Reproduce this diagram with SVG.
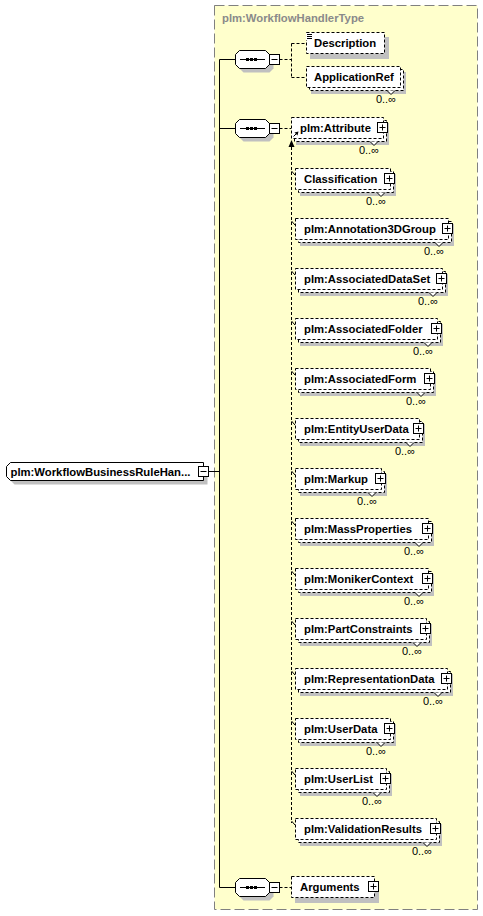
<svg xmlns="http://www.w3.org/2000/svg" xmlns:xlink="http://www.w3.org/1999/xlink" width="483" height="916" viewBox="0 0 483 916">
<style>
.sh{fill:#c0c0c0;stroke:none}
.bx{fill:#fff;stroke:#000;stroke-dasharray:3,2}
.sb{fill:#fff;stroke:#000}
.ic{fill:#fff;stroke:#000}
.ln{fill:none;stroke:#000}
.dl{fill:none;stroke:#000;stroke-dasharray:3,2}
.nt{fill:#fff;stroke:#000}
.t{font-family:"Liberation Sans",Arial,sans-serif;font-weight:bold;font-size:11.3px;fill:#000}
.m{font-family:"Liberation Sans",Arial,sans-serif;font-size:11px;fill:#000;text-anchor:end}
.ttl{font-family:"Liberation Sans",Arial,sans-serif;font-weight:bold;font-size:11.3px;fill:#8a8a8a}
</style>
<defs>
<g id="plus"><rect class="ic" x="0.5" y="0.5" width="10" height="10"/><path class="ln" d="M2.5 5.5H8.5M5.5 2.5V8.5"/></g>
<g id="minus"><rect class="ic" x="0.5" y="0.5" width="10" height="10"/><path class="ln" d="M2.5 5.5H8.5"/></g>
<g id="seq">
<polygon class="sh" transform="translate(4,4)" points="239.5,-9 265.5,-9 269.5,-5 269.5,5 265.5,9 239.5,9 235.5,5 235.5,-5"/>
<polygon class="sb" points="239.5,-9 265.5,-9 269.5,-5 269.5,5 265.5,9 239.5,9 235.5,5 235.5,-5"/>
<path class="ln" d="M240 0H265"/>
<rect x="246" y="-1.5" width="3" height="3" fill="#000"/>
<rect x="250" y="-1.5" width="3" height="3" fill="#000"/>
<rect x="254" y="-1.5" width="3" height="3" fill="#000"/>
<rect class="ic" x="269.5" y="-5" width="10" height="10"/>
<path class="ln" d="M271.5 0H277.5"/>
</g>
</defs>

<g id="WorkflowHandlerType">
<rect x="214.5" y="5.5" width="263" height="904" fill="#ffffcc" stroke="#808080" stroke-dasharray="10,4"/>
<text class="ttl" x="222" y="22">plm:WorkflowHandlerType</text>
</g>

<g id="connectors">
<path class="ln" d="M208.5 471.5H219.5M219.5 59.5V887.5M219.5 59.5H235.5M219.5 128.5H235.5M219.5 887.5H235.5"/>
<path class="dl" d="M279.5 59.5H291.5M291.5 43.5V77.5M291.5 43.5H306M291.5 77.5H306"/>
<path class="dl" d="M279.5 128.5H291M291.5 147V823M279.5 887.5H291"/>
<polygon points="291.5,140 288.5,147 294.5,147" fill="#000"/>
<path class="ln" d="M291.5 171L295 175M291.5 221L295 225M291.5 271L295 275M291.5 321L295 325M291.5 371L295 375M291.5 421L295 425M291.5 471L295 475M291.5 521L295 525M291.5 571L295 575M291.5 621L295 625M291.5 671L295 675M291.5 721L295 725M291.5 771L295 775M291.5 821L295 825"/>
</g>

<g id="root">
<polygon class="sh" transform="translate(4,4)" points="10.5,462.5 203.5,462.5 203.5,480.5 10.5,480.5 6.5,476.5 6.5,466.5"/>
<polygon class="sb" points="10.5,462.5 203.5,462.5 203.5,480.5 10.5,480.5 6.5,476.5 6.5,466.5"/>
<text class="t" x="10.5" y="475.5">plm:WorkflowBusinessRuleHan...</text>
<use xlink:href="#minus" x="198" y="466"/>
</g>

<g id="seq1"><use xlink:href="#seq" y="59.5"/></g>
<g id="seq2"><use xlink:href="#seq" y="128.5"/></g>
<g id="seq3"><use xlink:href="#seq" y="887.5"/></g>

<g id="Description">
<rect class="sh" x="310" y="37" width="79" height="22"/>
<rect class="bx" x="306.5" y="32.5" width="78" height="21"/>
<rect x="306" y="33" width="7" height="7" fill="#fff"/>
<path class="ln" d="M307 34.5H312M307 36.5H312M307 38.5H312"/>
<text class="t" x="314" y="47">Description</text>
</g>

<g id="ApplicationRef">
<rect class="sh" x="311" y="72" width="95" height="22"/>
<rect class="bx" x="309.5" y="69.5" width="94" height="21"/>
<rect class="bx" x="306.5" y="66.5" width="94" height="21"/>
<text class="t" x="314" y="81">ApplicationRef</text>
<path class="nt" d="M387 90.5l4 4l4 -4"/>
<text class="m" x="396" y="103">0..∞</text>
</g>

<g id="Attribute">
<rect class="sh" x="296" y="123" width="93" height="22"/>
<rect class="bx" x="294.5" y="120.5" width="92" height="21"/>
<rect class="bx" x="291.5" y="117.5" width="92" height="21"/>
<text class="t" x="300" y="132">plm:Attribute</text>
<path class="ln" d="M293.5 136.5L296.5 133.5"/>
<polygon points="298.5,131.5 294.5,132.5 297.5,135.5" fill="#000"/>
<use xlink:href="#plus" x="377" y="122"/>
<path class="nt" d="M370 141.5l4 4l4 -4"/>
<text class="m" x="379" y="154">0..∞</text>
</g>

<g id="Classification">
<rect class="sh" x="300" y="174" width="96" height="22"/>
<rect class="bx" x="298.5" y="171.5" width="95" height="21"/>
<rect class="bx" x="295.5" y="168.5" width="95" height="21"/>
<text class="t" x="304" y="183">Classification</text>
<use xlink:href="#plus" x="384" y="173"/>
<path class="nt" d="M377 192.5l4 4l4 -4"/>
<text class="m" x="386" y="205">0..∞</text>
</g>

<g id="Annotation3DGroup">
<rect class="sh" x="300" y="224" width="154" height="22"/>
<rect class="bx" x="298.5" y="221.5" width="153" height="21"/>
<rect class="bx" x="295.5" y="218.5" width="153" height="21"/>
<text class="t" x="304" y="233">plm:Annotation3DGroup</text>
<use xlink:href="#plus" x="442" y="223"/>
<path class="nt" d="M435 242.5l4 4l4 -4"/>
<text class="m" x="444" y="255">0..∞</text>
</g>

<g id="AssociatedDataSet">
<rect class="sh" x="300" y="274" width="148" height="22"/>
<rect class="bx" x="298.5" y="271.5" width="147" height="21"/>
<rect class="bx" x="295.5" y="268.5" width="147" height="21"/>
<text class="t" x="304" y="283">plm:AssociatedDataSet</text>
<use xlink:href="#plus" x="436" y="273"/>
<path class="nt" d="M429 292.5l4 4l4 -4"/>
<text class="m" x="438" y="305">0..∞</text>
</g>

<g id="AssociatedFolder">
<rect class="sh" x="300" y="324" width="143" height="22"/>
<rect class="bx" x="298.5" y="321.5" width="142" height="21"/>
<rect class="bx" x="295.5" y="318.5" width="142" height="21"/>
<text class="t" x="304" y="333">plm:AssociatedFolder</text>
<use xlink:href="#plus" x="431" y="323"/>
<path class="nt" d="M424 342.5l4 4l4 -4"/>
<text class="m" x="433" y="355">0..∞</text>
</g>

<g id="AssociatedForm">
<rect class="sh" x="300" y="374" width="136" height="22"/>
<rect class="bx" x="298.5" y="371.5" width="135" height="21"/>
<rect class="bx" x="295.5" y="368.5" width="135" height="21"/>
<text class="t" x="304" y="383">plm:AssociatedForm</text>
<use xlink:href="#plus" x="424" y="373"/>
<path class="nt" d="M417 392.5l4 4l4 -4"/>
<text class="m" x="426" y="405">0..∞</text>
</g>

<g id="EntityUserData">
<rect class="sh" x="300" y="424" width="125" height="22"/>
<rect class="bx" x="298.5" y="421.5" width="124" height="21"/>
<rect class="bx" x="295.5" y="418.5" width="124" height="21"/>
<text class="t" x="304" y="433">plm:EntityUserData</text>
<use xlink:href="#plus" x="413" y="423"/>
<path class="nt" d="M406 442.5l4 4l4 -4"/>
<text class="m" x="415" y="455">0..∞</text>
</g>

<g id="Markup">
<rect class="sh" x="300" y="474" width="87" height="22"/>
<rect class="bx" x="298.5" y="471.5" width="86" height="21"/>
<rect class="bx" x="295.5" y="468.5" width="86" height="21"/>
<text class="t" x="304" y="483">plm:Markup</text>
<use xlink:href="#plus" x="375" y="473"/>
<path class="nt" d="M368 492.5l4 4l4 -4"/>
<text class="m" x="377" y="505">0..∞</text>
</g>

<g id="MassProperties">
<rect class="sh" x="300" y="524" width="134" height="22"/>
<rect class="bx" x="298.5" y="521.5" width="133" height="21"/>
<rect class="bx" x="295.5" y="518.5" width="133" height="21"/>
<text class="t" x="304" y="533">plm:MassProperties</text>
<use xlink:href="#plus" x="422" y="523"/>
<path class="nt" d="M415 542.5l4 4l4 -4"/>
<text class="m" x="424" y="555">0..∞</text>
</g>

<g id="MonikerContext">
<rect class="sh" x="300" y="574" width="134" height="22"/>
<rect class="bx" x="298.5" y="571.5" width="133" height="21"/>
<rect class="bx" x="295.5" y="568.5" width="133" height="21"/>
<text class="t" x="304" y="583">plm:MonikerContext</text>
<use xlink:href="#plus" x="422" y="573"/>
<path class="nt" d="M415 592.5l4 4l4 -4"/>
<text class="m" x="424" y="605">0..∞</text>
</g>

<g id="PartConstraints">
<rect class="sh" x="300" y="624" width="132" height="22"/>
<rect class="bx" x="298.5" y="621.5" width="131" height="21"/>
<rect class="bx" x="295.5" y="618.5" width="131" height="21"/>
<text class="t" x="304" y="633">plm:PartConstraints</text>
<use xlink:href="#plus" x="420" y="623"/>
<path class="nt" d="M413 642.5l4 4l4 -4"/>
<text class="m" x="422" y="655">0..∞</text>
</g>

<g id="RepresentationData">
<rect class="sh" x="300" y="674" width="153" height="22"/>
<rect class="bx" x="298.5" y="671.5" width="152" height="21"/>
<rect class="bx" x="295.5" y="668.5" width="152" height="21"/>
<text class="t" x="304" y="683">plm:RepresentationData</text>
<use xlink:href="#plus" x="441" y="673"/>
<path class="nt" d="M434 692.5l4 4l4 -4"/>
<text class="m" x="443" y="705">0..∞</text>
</g>

<g id="UserData">
<rect class="sh" x="300" y="724" width="96" height="22"/>
<rect class="bx" x="298.5" y="721.5" width="95" height="21"/>
<rect class="bx" x="295.5" y="718.5" width="95" height="21"/>
<text class="t" x="304" y="733">plm:UserData</text>
<use xlink:href="#plus" x="384" y="723"/>
<path class="nt" d="M377 742.5l4 4l4 -4"/>
<text class="m" x="386" y="755">0..∞</text>
</g>

<g id="UserList">
<rect class="sh" x="300" y="774" width="92" height="22"/>
<rect class="bx" x="298.5" y="771.5" width="91" height="21"/>
<rect class="bx" x="295.5" y="768.5" width="91" height="21"/>
<text class="t" x="304" y="783">plm:UserList</text>
<use xlink:href="#plus" x="380" y="773"/>
<path class="nt" d="M373 792.5l4 4l4 -4"/>
<text class="m" x="382" y="805">0..∞</text>
</g>

<g id="ValidationResults">
<rect class="sh" x="300" y="824" width="142" height="22"/>
<rect class="bx" x="298.5" y="821.5" width="141" height="21"/>
<rect class="bx" x="295.5" y="818.5" width="141" height="21"/>
<text class="t" x="304" y="833">plm:ValidationResults</text>
<use xlink:href="#plus" x="430" y="823"/>
<path class="nt" d="M423 842.5l4 4l4 -4"/>
<text class="m" x="432" y="855">0..∞</text>
</g>

<g id="Arguments">
<rect class="sh" x="295" y="881" width="84" height="22"/>
<rect class="bx" x="291.5" y="876.5" width="83" height="21"/>
<text class="t" x="300" y="891">Arguments</text>
<use xlink:href="#plus" x="368" y="881"/>
</g>
</svg>
